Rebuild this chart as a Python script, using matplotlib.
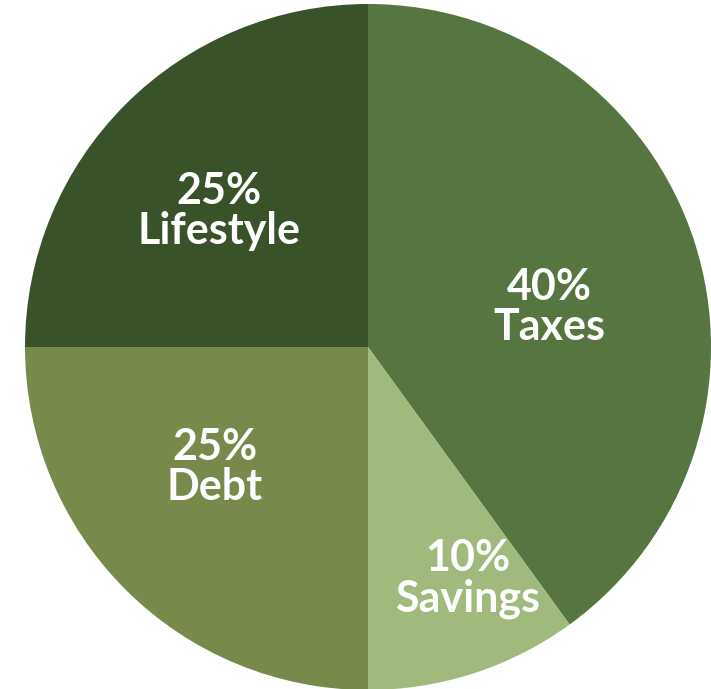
import numpy as np
import matplotlib
matplotlib.use('Agg')
import matplotlib.pyplot as plt

# Dades del gràfic
categories = ['Taxes', 'Savings', 'Debt', 'Lifestyle']
percentatges = [40, 10, 25, 25]
colors = ['#567540', '#a0ba7e', '#78894c', '#3a522a']

# Posició relativa de cada etiqueta (distància, desplaçament d'angle en graus)
label_dist = [0.54, 0.735, 0.568, 0.589]
label_shift = [-5.6, 5.2, -6.8, 2.6]

fig = plt.figure(figsize=(7.11, 6.89), dpi=100)
ax = fig.add_axes([0, 0, 1, 1])

radi = 343
centre = (368, 689 - 347)
wedges, _ = ax.pie(percentatges, colors=colors, startangle=90, counterclock=False,
                   radius=radi, center=centre, wedgeprops=dict(linewidth=0))

for w, cat, pct, d, s in zip(wedges, categories, percentatges, label_dist, label_shift):
    theta = np.deg2rad((w.theta1 + w.theta2) / 2 + s)
    x = centre[0] + radi * d * np.cos(theta)
    y = centre[1] + radi * d * np.sin(theta)
    ax.text(x, y, f"{pct}%\n{cat}", ha='center', va='center', color='white',
            fontsize=31, fontweight='bold', family='Lato', linespacing=1.0)

ax.set_xlim(0, 711)
ax.set_ylim(0, 689)
ax.set_aspect('auto')
ax.axis('off')

fig.savefig('out.png', dpi=100, facecolor='white')
